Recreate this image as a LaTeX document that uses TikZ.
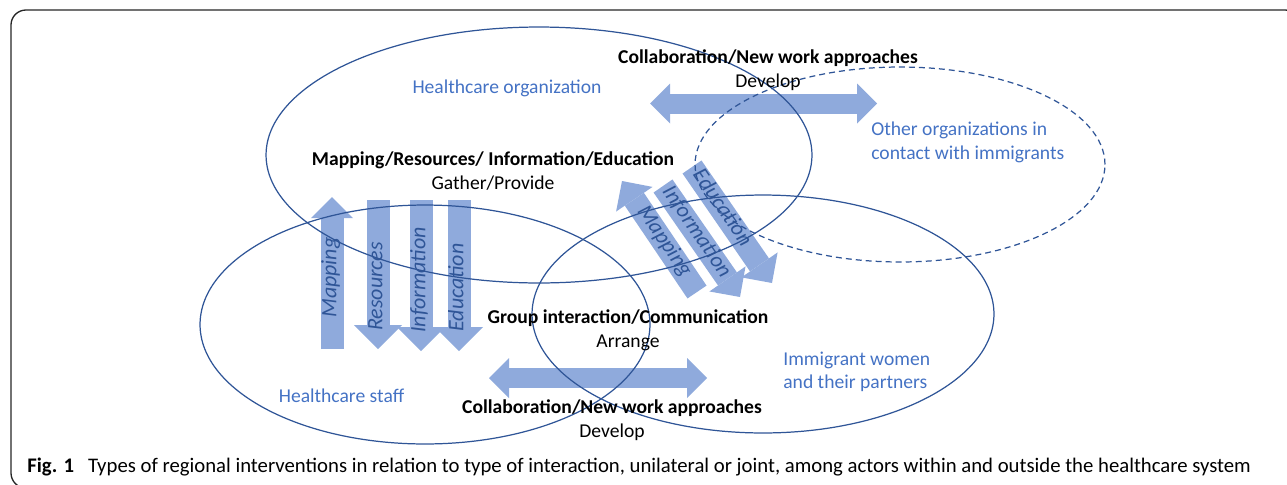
\documentclass[tikz,border=0pt]{standalone}
\usepackage{fontspec}
\setmainfont{Carlito}
\usetikzlibrary{shapes.geometric, arrows.meta, positioning}
\definecolor{rimblue}{RGB}{47,85,151}
\definecolor{nameblue}{RGB}{68,114,196}
\definecolor{flowblue}{RGB}{143,170,220}
\definecolor{flowtext}{RGB}{47,85,151}
\tikzset{
    actor/.style={
        ellipse,
        draw=rimblue,
        line width=0.7pt,
        inner sep=0pt
    },
    outsider/.style={
        actor,
        dash pattern=on 3.4pt off 2.3pt
    },
    actorname/.style={
        text=nameblue,
        font=\fontsize{11.15}{13.4}\selectfont,
        align=left,
        inner sep=0pt
    },
    action/.style={
        align=center,
        font=\fontsize{11.15}{13.6}\selectfont,
        inner sep=0pt
    },
    flow/.style={
        flowblue,
        line width=0.46cm,
        -{Triangle[width=#1, length=0.5*#1, line width=0pt]}
    },
    flow/.default=0.96cm,
    twoway/.style={
        flowblue,
        line width=0.4cm,
        {Triangle[width=0.8cm, length=0.4cm, line width=0pt]}-{Triangle[width=0.8cm, length=0.4cm, line width=0pt]}
    },
    flowlabel/.style={
        text=flowtext,
        font=\fontsize{12.5}{15}\selectfont\itshape,
        text height=0.7em,
        text depth=0.2em,
        inner sep=0pt
    },
    frame/.style={
        draw=black!85,
        line width=0.75pt,
        rounded corners=0.3cm
    }
}

\begin{document}
\begin{tikzpicture}[x=0.02cm, y=-0.02cm]
    \useasboundingbox (0,0) rectangle (1287,484);
    \draw[frame] (11,10) rectangle (1300,488);

    % end points of the block arrows
    \coordinate (mapT) at (332,349);  \coordinate (mapH) at (332,197);
    \coordinate (resT) at (378,200);  \coordinate (resH) at (378,349);
    \coordinate (infT) at (421,200);  \coordinate (infH) at (421,351);
    \coordinate (eduT) at (459,200);  \coordinate (eduH) at (459,351);
    \coordinate (mapDT) at (697,292); \coordinate (mapDH) at (622,181);
    \coordinate (infDT) at (663,186); \coordinate (infDH) at (740,297);
    \coordinate (eduDT) at (692,167); \coordinate (eduDH) at (772,283);
    \coordinate (topL) at (650,103.5); \coordinate (topR) at (877,103.5);
    \coordinate (botL) at (489,378);   \coordinate (botR) at (707,378);

    % gather/provide
    \draw[flow=0.84cm] (mapT) -- node[flowlabel, rotate=90, pos=.47] (lmap) {Mapping} (mapH);
    \draw[flow] (resT) -- node[flowlabel, rotate=90, pos=.58] (lres) {Resources} (resH);
    \draw[flow] (infT) -- node[flowlabel, rotate=90, pos=.53] (linf) {Information} (infH);
    \draw[flow] (eduT) -- node[flowlabel, rotate=90, pos=.58] (ledu) {Education} (eduH);

    % towards the women
    \draw[flow=0.88cm] (mapDT) -- node[flowlabel, rotate=-55.6, pos=.45] (lmapd) {Mapping} (mapDH);
    \draw[flow=0.88cm] (infDT) -- node[flowlabel, rotate=-55.6, pos=.42] (linfd) {Information} (infDH);
    \draw[flow=0.88cm] (eduDT) -- node[flowlabel, rotate=-55.6, pos=.36] (ledud) {Education} (eduDH);

    % collaboration
    \draw[twoway] (topL) -- (topR);
    \draw[twoway] (botL) -- (botR);

    % actors
    \node[actor, minimum width=10.92cm, minimum height=5.12cm] (org)    at (539,155)   {};
    \node[actor, minimum width=9.0cm,   minimum height=4.78cm] (staff)  at (425,324.5) {};
    \node[actor, minimum width=9.24cm,  minimum height=4.76cm] (women)  at (763,314)   {};
    \node[outsider, minimum width=8.2cm, minimum height=3.9cm] (others) at (900,164.5) {};

    \node[actorname] (orgname)    at (507,88)  {Healthcare organization};
    \node[actorname] (staffname)  at (341.5,396) {Healthcare staff};
    \node[actorname, anchor=west] (othername) at (871,142.5) {Other organizations in\\contact with immigrants};
    \node[actorname, anchor=west] (womenname) at (783,372) {Immigrant women\\and their partners};

    \node[action] (gather)   at (493,171) {\textbf{Mapping/Resources/ Information/Education}\\Gather/Provide};
    \node[action] (develop)  at (768,70)  {\textbf{Collaboration/New work approaches}\\Develop};
    \node[action] (arrange)  at (628,330) {\textbf{Group interaction/Communication}\\Arrange};
    \node[action] (develop2) at (612,420) {\textbf{Collaboration/New work approaches}\\Develop};

    \node[anchor=base west, inner sep=0pt, font=\fontsize{11.8}{14}\selectfont] (caption) at (27,472)
        {\textbf{Fig. 1}\hspace{0.28cm}Types of regional interventions in relation to type of interaction, unilateral or joint, among actors within and outside the healthcare system};
\end{tikzpicture}
\end{document}
